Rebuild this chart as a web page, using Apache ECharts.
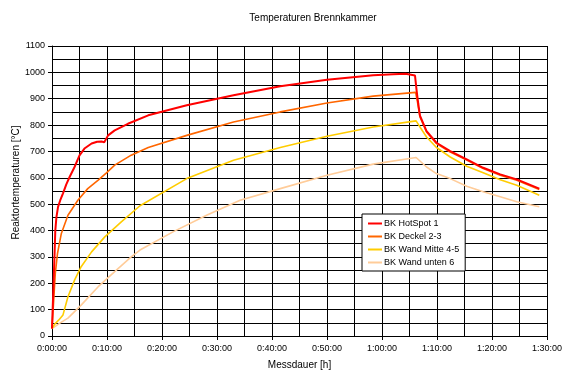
<!DOCTYPE html>
<html>
<head>
<meta charset="utf-8">
<script src="https://cdn.jsdelivr.net/npm/echarts@6/dist/echarts.min.js"></script>
<style>html,body{margin:0;padding:0;background:#fff}#c{width:578px;height:374px}</style>
</head>
<body>
<div id="c"></div>
<script>
// Time in minutes, temperature in °C
var seriesNames = ['BK HotSpot 1', 'BK Deckel 2-3', 'BK Wand Mitte 4-5', 'BK Wand unten 6'];
var xTicks = [0, 10, 20, 30, 40, 50, 60, 70, 80, 90];

var timeHot = [0, 0.3, 0.45, 0.6, 0.8, 1.1, 1.5, 2.0, 2.6, 3.2, 4.1, 5.0, 5.9, 7.2, 8.2, 9.0, 9.5, 9.8, 10.2, 11.4, 13.8, 17.5, 24.5, 33, 41.5, 50, 58.4, 62, 64.3, 64.6, 66.0, 66.3, 66.6, 66.9, 68.1, 69.9, 72.4, 75.4, 78.4, 81.5, 84.5, 88.6];
var tempHot = [28, 35, 300, 400, 450, 490, 515, 541, 575, 603, 641, 685, 711, 730, 737, 738, 735, 740, 761, 780, 805, 837, 875, 913, 947, 972, 989, 993, 995, 988, 988, 930, 880, 836, 777, 733, 701, 670, 638, 613, 594, 559];

var timeDeckel = [0, 0.35, 0.6, 1.0, 1.7, 2.9, 4.7, 6.5, 8.4, 9.9, 11.4, 14.4, 17.5, 24.5, 33, 41.5, 50, 58.4, 66.1, 66.4, 66.9, 68.1, 69.9, 72.4, 75.4, 78.4, 81.5, 84.5, 88.6];
var tempDeckel = [28, 35, 237, 313, 389, 458, 515, 559, 591, 619, 648, 686, 715, 761, 812, 850, 884, 910, 924, 894, 831, 774, 730, 698, 667, 635, 610, 591, 556];

var timeMitte = [0, 0.5, 1.2, 2.0, 2.9, 4.1, 5.3, 7.2, 9.6, 12.6, 16, 24.5, 33, 41.5, 50, 58.4, 66.2, 66.9, 68.1, 69.9, 72.4, 75.4, 78.4, 81.5, 84.5, 88.6];
var tempMitte = [28, 45, 60, 80, 149, 212, 263, 319, 376, 433, 494, 597, 667, 715, 758, 793, 816, 793, 755, 715, 679, 644, 619, 593, 572, 534];

var timeUnten = [0, 1.5, 2.9, 5.3, 8.4, 11.4, 14.4, 16, 22, 28.1, 34.2, 41.5, 50, 58.4, 66.2, 68.1, 69.9, 72.4, 75.4, 78.4, 81.5, 84.5, 88.6];
var tempUnten = [28, 50, 68, 117, 187, 244, 300, 326, 395, 458, 515, 559, 610, 652, 677, 641, 616, 597, 568, 547, 528, 509, 490];

var colors = ['#ff0000', '#ff6600', '#ffcc00', '#ffcc99'];
var widths = [2, 1.6, 1.6, 1.6];

function pairs(t, v) { return t.map(function (x, i) { return [x, v[i]]; }); }
function fmtTime(m) {
  var h = Math.floor(m / 60), mm = Math.round(m % 60);
  return h + ':' + (mm < 10 ? '0' : '') + mm + ':00';
}

var dataSets = [pairs(timeHot, tempHot), pairs(timeDeckel, tempDeckel), pairs(timeMitte, tempMitte), pairs(timeUnten, tempUnten)];

var font = 'Liberation Sans, Arial, sans-serif';
var chart = echarts.init(document.getElementById('c'), null, { renderer: 'canvas' });
chart.setOption({
  animation: false,
  backgroundColor: '#fff',
  textStyle: { fontFamily: font },
  title: {
    text: 'Temperaturen Brennkammer',
    left: 308, top: 8, textAlign: 'center',
    textStyle: { fontSize: 10, fontWeight: 'normal', color: '#000', fontFamily: font }
  },
  legend: {
    orient: 'vertical',
    left: 362, top: 214,
    padding: [4, 6, 3, 6],
    backgroundColor: '#fff',
    borderColor: '#000', borderWidth: 1,
    icon: 'rect', itemWidth: 14, itemHeight: 2, itemGap: 2,
    textStyle: { fontSize: 9, color: '#000', lineHeight: 11, fontFamily: font, padding: [0, 0, 0, -3] },
    data: seriesNames
  },
  grid: { left: 52, right: 31, top: 46, bottom: 38, outerBoundsMode: 'none', containLabel: false },
  xAxis: {
    type: 'value', min: 0, max: 90, interval: 10,
    name: 'Messdauer [h]', nameLocation: 'middle', nameGap: 24, nameMoveOverlap: false,
    nameTextStyle: { fontSize: 10, color: '#000', fontFamily: font },
    axisLine: { lineStyle: { color: '#000', width: 1 } },
    axisTick: { show: true, length: 4, lineStyle: { color: '#000' } },
    axisLabel: { fontSize: 9, color: '#000', margin: 8, fontFamily: font, formatter: fmtTime },
    splitLine: { show: true, lineStyle: { color: '#000', width: 1 } },
    minorTick: { show: false, splitNumber: 2 },
    minorSplitLine: { show: true, lineStyle: { color: '#000', width: 1 } }
  },
  yAxis: {
    type: 'value', min: 0, max: 1100, interval: 100,
    name: 'Reaktortemperaturen [°C]', nameLocation: 'middle', nameGap: 31, nameMoveOverlap: false,
    nameTextStyle: { fontSize: 10, color: '#000', fontFamily: font, padding: [0, 0, 0, 17] },
    axisLine: { show: true, lineStyle: { color: '#000', width: 1 } },
    axisTick: { show: true, length: 4, lineStyle: { color: '#000' } },
    axisLabel: { fontSize: 9, color: '#000', margin: 7, fontFamily: font, formatter: function (v) { return String(v); } },
    splitLine: { show: true, lineStyle: { color: '#000', width: 1 } },
    minorTick: { show: false, splitNumber: 2 },
    minorSplitLine: { show: true, lineStyle: { color: '#000', width: 1 } }
  },
  series: seriesNames.map(function (n, i) {
    return {
      name: n, type: 'line', data: dataSets[i],
      showSymbol: false, symbol: 'none',
      color: colors[i],
      lineStyle: { color: colors[i], width: widths[i] },
      z: 10 - i
    };
  })
});
</script>
</body>
</html>
